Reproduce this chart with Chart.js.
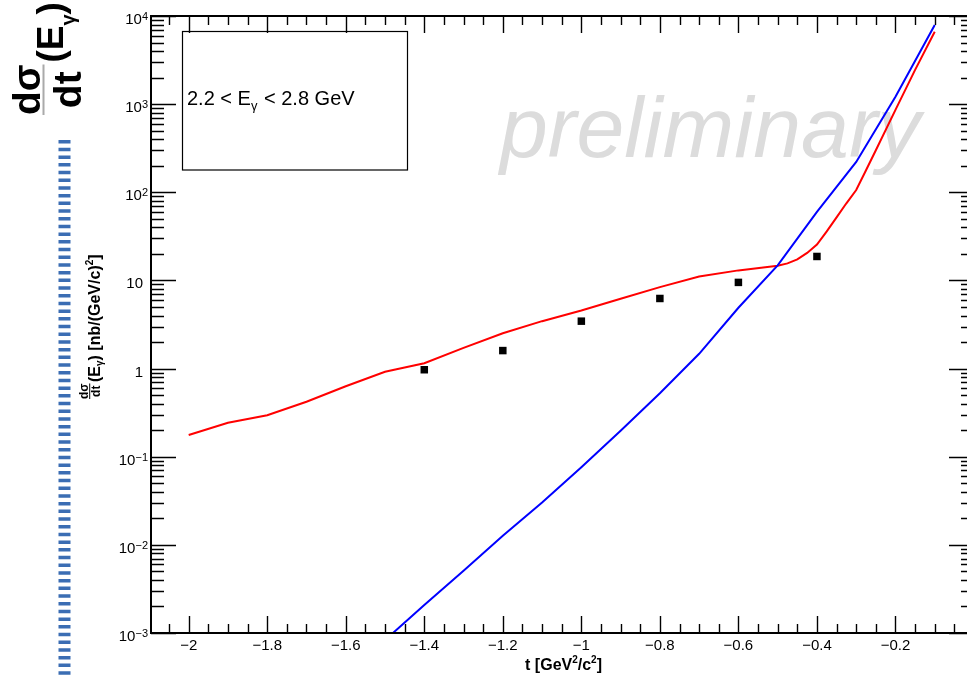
<!DOCTYPE html>
<html>
<head>
<meta charset="utf-8">
<script src="https://cdn.jsdelivr.net/npm/chart.js@4.4.1/dist/chart.umd.min.js"></script>
<style>
  html, body { margin: 0; padding: 0; overflow: hidden; background: #fff; }
  #wrap { width: 980px; height: 677px; }
</style>
</head>
<body>
<div id="wrap"><canvas id="chart" width="980" height="677"></canvas></div>
<script>
// model curves (red, blue) and measured points, t in GeV^2/c^2
const redT = [-2.0, -1.9, -1.8, -1.7, -1.6, -1.5, -1.45, -1.4, -1.3, -1.2, -1.1, -1.0, -0.9, -0.8, -0.7, -0.6, -0.5, -0.475, -0.45, -0.425, -0.4, -0.375, -0.35, -0.325, -0.3, -0.275, -0.25, -0.2, -0.15, -0.1];
const redY = [0.176, 0.243, 0.295, 0.42, 0.63, 0.92, 1.03, 1.15, 1.72, 2.52, 3.45, 4.56, 6.2, 8.4, 11.1, 13.0, 14.7, 15.6, 17.3, 20.5, 25.5, 36, 52, 75, 106, 178, 300, 860, 2450, 6620];
const blueT = [-1.5, -1.4, -1.3, -1.2, -1.1, -1.0, -0.9, -0.8, -0.7, -0.6, -0.5, -0.4, -0.3, -0.2, -0.1];
const blueY = [0.00083, 0.00208, 0.00507, 0.01265, 0.0302, 0.0758, 0.197, 0.524, 1.47, 4.9, 14.8, 60, 221, 1210, 7900];
const dataT = [-1.4, -1.2, -1.0, -0.8, -0.6, -0.4];
const dataY = [0.97, 1.60, 3.45, 6.24, 9.5, 18.7];

const xTicks = [-2, -1.8, -1.6, -1.4, -1.2, -1, -0.8, -0.6, -0.4, -0.2];
const yTickExps = [-3, -2, -1, 0, 1, 2, 3, 4];

const FONT = '"Liberation Sans", Arial, Helvetica, sans-serif';

function pts(xs, ys) {
  return xs.map((x, i) => ({ x: x, y: ys[i] }));
}

// draw a list of text runs one after another along the baseline
function drawRuns(ctx, runs, u, v) {
  runs.forEach(r => {
    ctx.font = r.font;
    ctx.fillText(r.t, u, v + (r.dv || 0));
    u += ctx.measureText(r.t).width + (r.gap || 0);
  });
  return u;
}

function runsWidth(ctx, runs) {
  let w = 0;
  runs.forEach(r => { ctx.font = r.font; w += ctx.measureText(r.t).width + (r.gap || 0); });
  return w;
}

const rootPlugin = {
  id: 'rootStyle',
  beforeDatasetsDraw(chart) {
    const ctx = chart.ctx;
    ctx.save();
    // watermark
    ctx.fillStyle = '#dcdcdc';
    ctx.font = 'italic 86px ' + FONT;
    ctx.textAlign = 'left';
    ctx.textBaseline = 'alphabetic';
    ctx.fillText('preliminary', 500, 157);

    // legend box
    ctx.strokeStyle = '#000';
    ctx.lineWidth = 1.2;
    ctx.strokeRect(182.5, 31.5, 225, 138.5);
    ctx.fillStyle = '#000';
    drawRuns(ctx, [
      { t: '2.2 < E', font: '20px ' + FONT },
      { t: 'γ', font: '13px ' + FONT, dv: 5, gap: 1 },
      { t: ' < 2.8 GeV', font: '20px ' + FONT }
    ], 187, 105);
    ctx.restore();
  },
  afterDraw(chart) {
    const ctx = chart.ctx;
    const a = chart.chartArea;
    const xs = chart.scales.x, ys = chart.scales.y;
    ctx.save();
    ctx.strokeStyle = '#000';
    ctx.lineWidth = 1.4;
    ctx.beginPath();
    // x ticks, minor every 0.05, major every 0.2
    for (let i = -41; i <= -1; i++) {
      const v = i * 0.05;
      if (v < xs.min) continue;
      const px = Math.round(xs.getPixelForValue(v)) + 0.5;
      const major = i % 4 === 0;
      const len = major ? 17 : 9;
      ctx.moveTo(px, a.bottom); ctx.lineTo(px, a.bottom - len);
      ctx.moveTo(px, a.top); ctx.lineTo(px, a.top + len);
    }
    // y ticks, log decades
    yTickExps.forEach(e => {
      for (let m = 1; m <= 9; m++) {
        const v = m * Math.pow(10, e);
        if (v > ys.max * 1.0001) break;
        const py = Math.round(ys.getPixelForValue(v)) + 0.5;
        const len = m === 1 ? 25 : 13;
        ctx.moveTo(a.left, py); ctx.lineTo(a.left + len, py);
        ctx.moveTo(a.right, py); ctx.lineTo(a.right - len, py);
      }
    });
    ctx.stroke();

    // frame
    ctx.lineWidth = 2;
    ctx.strokeRect(a.left, a.top, a.right - a.left, a.bottom - a.top);

    // x tick labels
    ctx.fillStyle = '#000';
    ctx.font = '15px ' + FONT;
    ctx.textAlign = 'center';
    ctx.textBaseline = 'alphabetic';
    xTicks.forEach(v => {
      ctx.fillText(String(v).replace('-', '\u2212'), xs.getPixelForValue(v), 650);
    });

    // y tick labels
    ctx.textAlign = 'left';
    yTickExps.forEach(e => {
      const py = ys.getPixelForValue(Math.pow(10, e));
      let runs;
      if (e === 0) runs = [{ t: '1', font: '15px ' + FONT }];
      else if (e === 1) runs = [{ t: '10', font: '15px ' + FONT }];
      else runs = [
        { t: '10', font: '15px ' + FONT },
        { t: String(e).replace('-', '\u2212'), font: '11px ' + FONT, dv: -4 }
      ];
      const w = runsWidth(ctx, runs);
      const right = e === 0 || e === 1 ? 143 : 148;
      drawRuns(ctx, runs, right - w, py + 8);
    });

    // x title
    const xRuns = [
      { t: 't [GeV', font: 'bold 16px ' + FONT },
      { t: '2', font: 'bold 10px ' + FONT, dv: -7 },
      { t: '/c', font: 'bold 16px ' + FONT },
      { t: '2', font: 'bold 10px ' + FONT, dv: -7 },
      { t: ']', font: 'bold 16px ' + FONT }
    ];
    drawRuns(ctx, xRuns, 602 - runsWidth(ctx, xRuns), 670);

    // y title (rotated)
    ctx.save();
    ctx.translate(0, 399);
    ctx.rotate(-Math.PI / 2);
    ctx.font = 'bold 12px ' + FONT;
    const wn = ctx.measureText('dσ').width, wd = ctx.measureText('dt').width;
    const wf = Math.max(wn, wd);
    ctx.fillText('dσ', (wf - wn) / 2, 87.5);
    ctx.fillText('dt', (wf - wd) / 2, 100);
    ctx.fillRect(0, 89.2, wf, 1);
    drawRuns(ctx, [
      { t: '(E', font: 'bold 16px ' + FONT },
      { t: 'γ', font: 'bold 10px ' + FONT, dv: 3 },
      { t: ') [nb/(GeV/c)', font: 'bold 16px ' + FONT },
      { t: '2', font: 'bold 10px ' + FONT, dv: -7 },
      { t: ']', font: 'bold 16px ' + FONT }
    ], wf + 1.5, 100);
    ctx.restore();

    // big side title (rotated)
    ctx.save();
    ctx.translate(0, 115);
    ctx.rotate(-Math.PI / 2);
    ctx.font = 'bold 39px ' + FONT;
    const bn = ctx.measureText('dσ').width, bd = ctx.measureText('dt').width;
    const bf = Math.max(bn, bd);
    ctx.fillText('dσ', (bf - bn) / 2, 40);
    ctx.fillText('dt', (bf - bd) / 2, 81);
    ctx.fillStyle = '#aaaaaa';
    ctx.fillRect(0, 42.5, bf, 2);
    ctx.fillStyle = '#000';
    drawRuns(ctx, [
      { t: '(E', font: 'bold 37px ' + FONT },
      { t: 'γ', font: 'bold 20px ' + FONT, dv: 12 },
      { t: ')', font: 'bold 37px ' + FONT }
    ], bf + 2, 63);
    ctx.restore();

    // dashed vertical strip
    ctx.strokeStyle = '#3b6db3';
    ctx.lineWidth = 12;
    ctx.setLineDash([3.5, 4.2]);
    ctx.beginPath();
    ctx.moveTo(64.5, 140);
    ctx.lineTo(64.5, 677);
    ctx.stroke();
    ctx.restore();
  }
};

new Chart(document.getElementById('chart'), {
  type: 'line',
  data: {
    datasets: [
      {
        label: 'data',
        data: pts(dataT, dataY),
        showLine: false,
        pointStyle: 'rect',
        pointRadius: 5.3,
        backgroundColor: '#000',
        borderWidth: 0
      },
      {
        label: 'blue',
        data: pts(blueT, blueY),
        borderColor: '#0000ff',
        borderWidth: 2,
        pointRadius: 0,
        tension: 0,
        fill: false
      },
      {
        label: 'red',
        data: pts(redT, redY),
        borderColor: '#ff0000',
        borderWidth: 2,
        pointRadius: 0,
        tension: 0,
        fill: false
      }
    ]
  },
  options: {
    responsive: false,
    animation: false,
    devicePixelRatio: 1,
    events: [],
    layout: { padding: { left: 151, right: 6, top: 16, bottom: 44 } },
    plugins: { legend: { display: false }, tooltip: { enabled: false } },
    scales: {
      x: { type: 'linear', min: -2.096, max: 0, display: false },
      y: { type: 'logarithmic', min: 1e-3, max: 1e4, display: false }
    }
  },
  plugins: [rootPlugin]
});
</script>
</body>
</html>
